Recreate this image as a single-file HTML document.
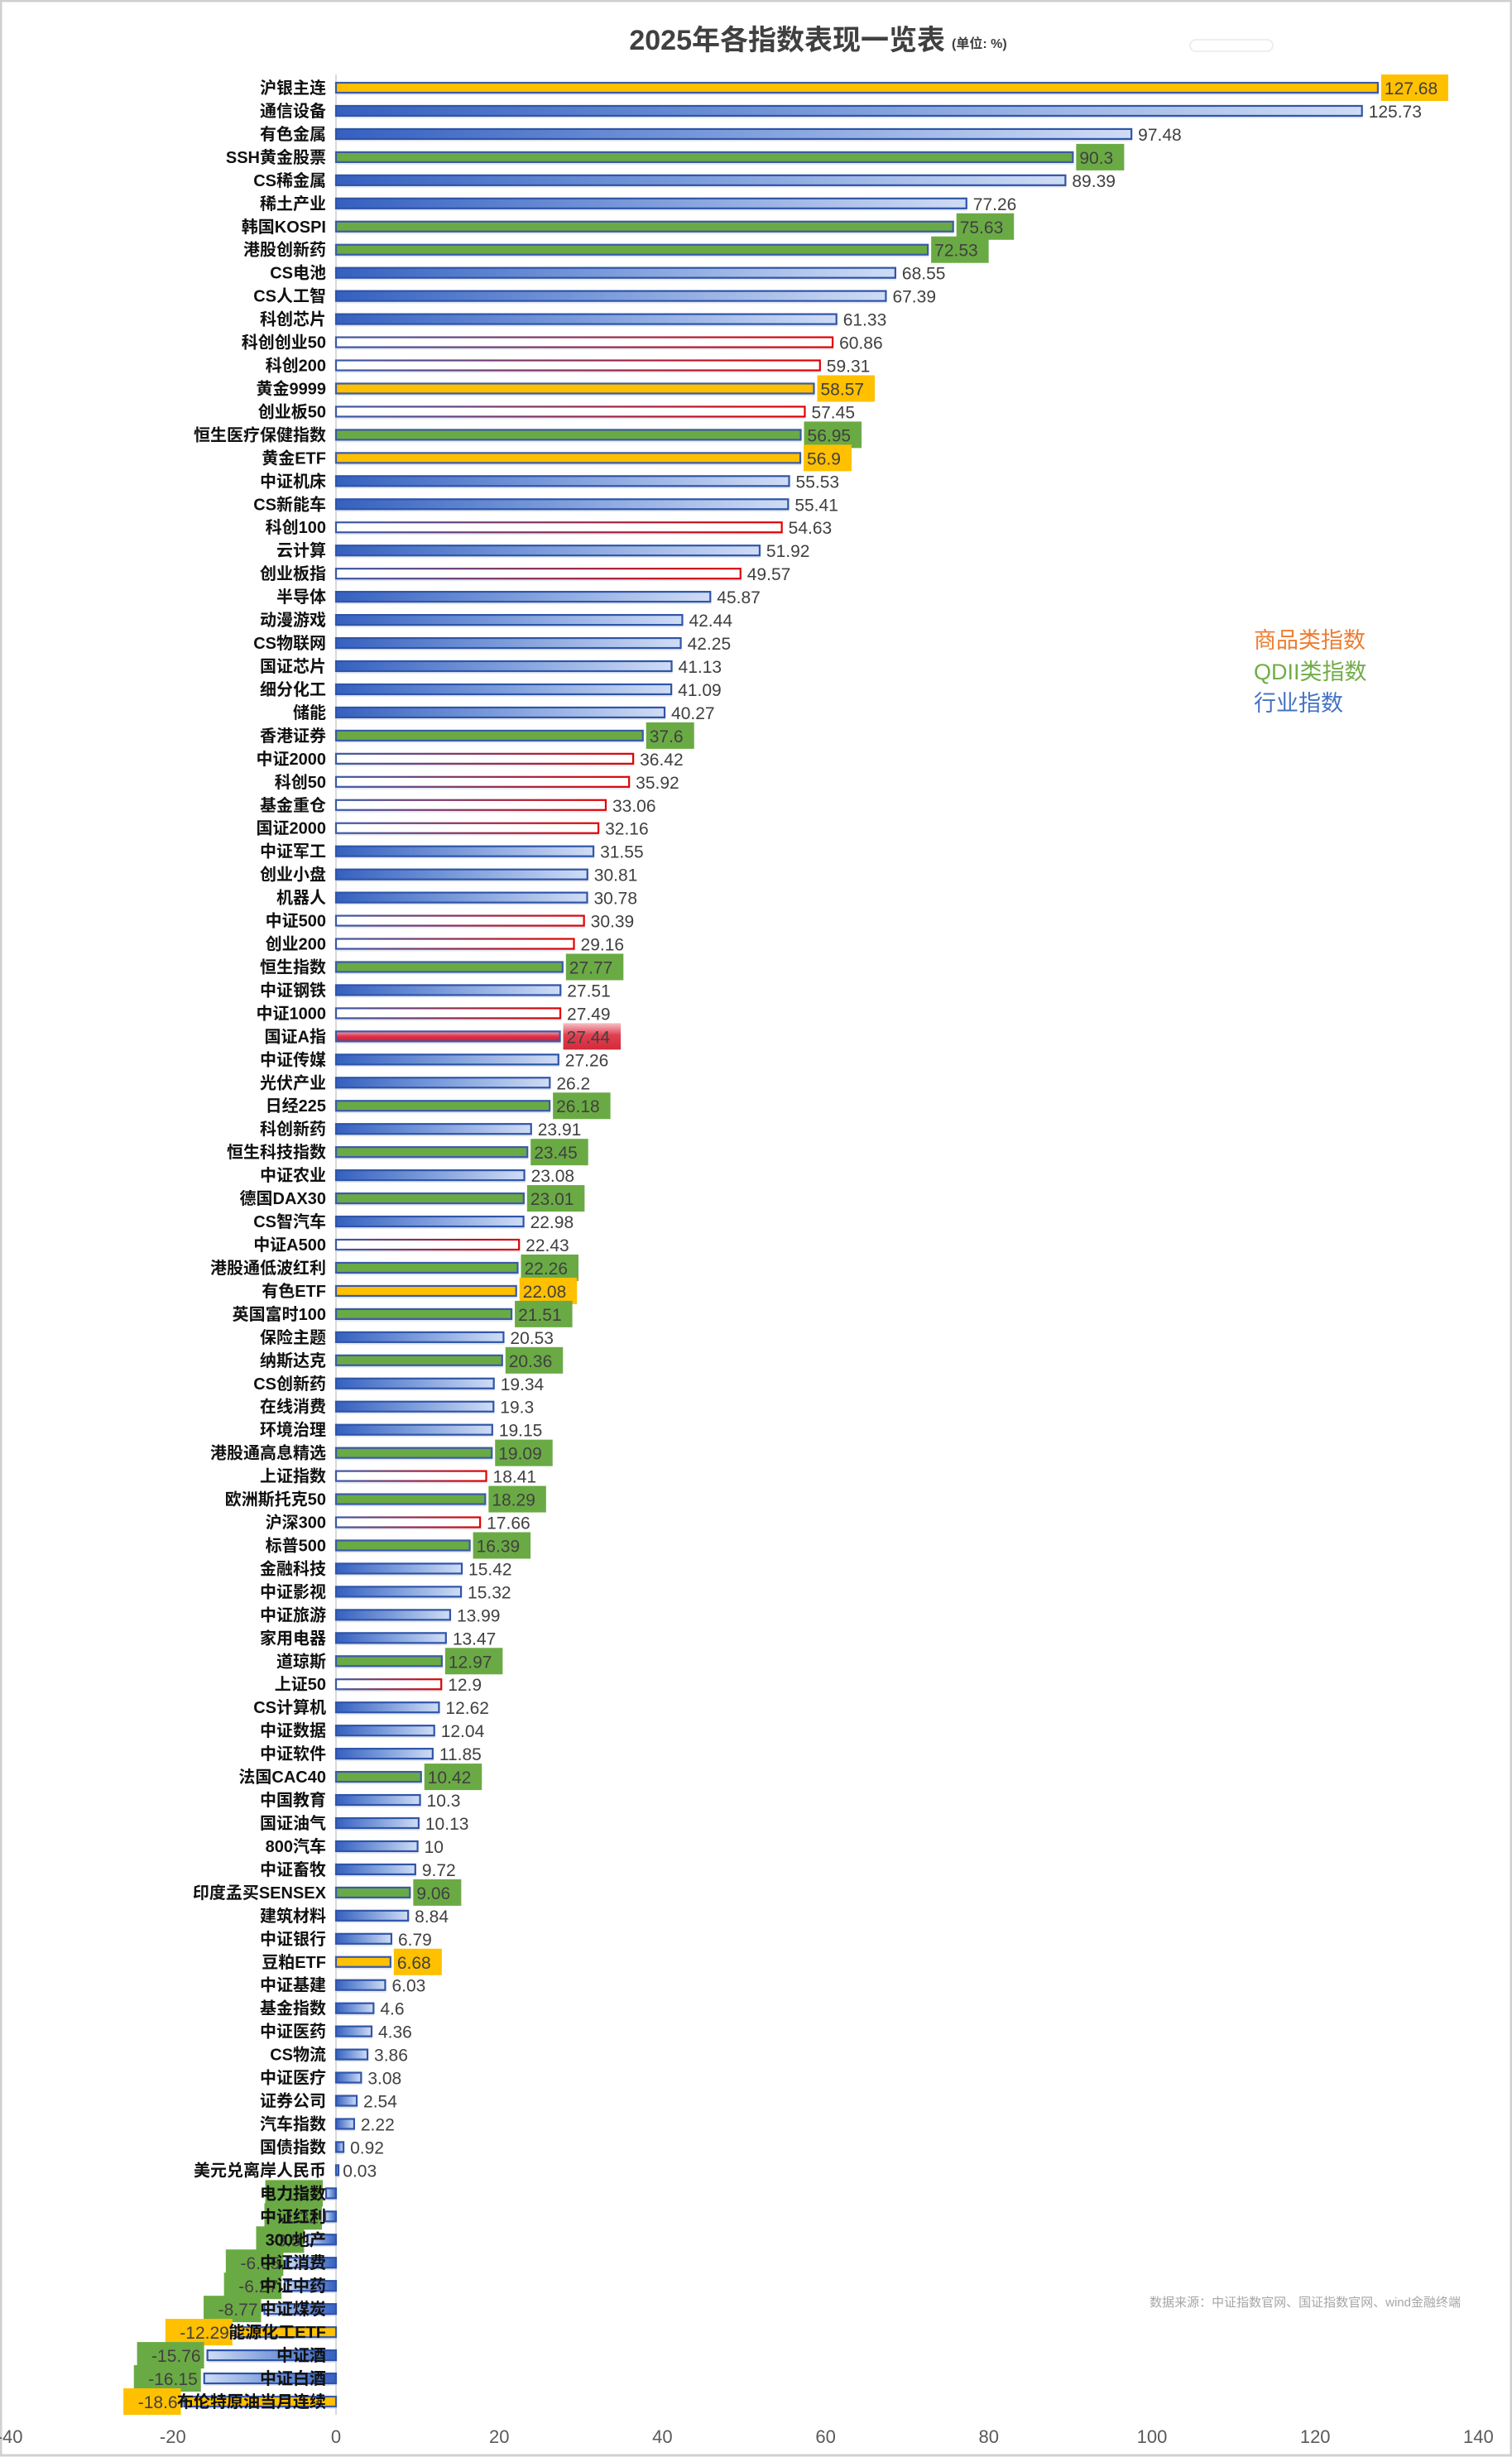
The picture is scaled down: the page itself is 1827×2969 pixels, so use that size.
<!DOCTYPE html>
<html><head><meta charset="utf-8">
<style>
html,body{margin:0;padding:0;background:#fff;}
svg{display:block;font-family:"Liberation Sans","Noto Sans CJK SC",sans-serif;}
</style></head>
<body>
<svg id="chart" width="1827" height="2969" viewBox="0 0 1827 2969" xmlns="http://www.w3.org/2000/svg">
<defs>
<linearGradient id="gBlue" x1="0" x2="1" y1="0" y2="0"><stop offset="0" stop-color="#3560c0"/><stop offset="0.5" stop-color="#7d9ddb"/><stop offset="1" stop-color="#cfdcf5"/></linearGradient>
<linearGradient id="gBlueN" x1="1" x2="0" y1="0" y2="0"><stop offset="0" stop-color="#3560c0"/><stop offset="0.5" stop-color="#7d9ddb"/><stop offset="1" stop-color="#cfdcf5"/></linearGradient>
<linearGradient id="gRedStroke" x1="0" x2="1" y1="0" y2="0"><stop offset="0" stop-color="#3a5aa8"/><stop offset="1" stop-color="#e00000"/></linearGradient>
<linearGradient id="gRedFill" x1="0" x2="0" y1="0" y2="1"><stop offset="0" stop-color="#f4a0aa"/><stop offset="0.5" stop-color="#e0304a"/><stop offset="1" stop-color="#c81e36"/></linearGradient>
<linearGradient id="gRedBox" x1="0" x2="0" y1="0" y2="1"><stop offset="0" stop-color="#f6c0c6"/><stop offset="0.45" stop-color="#e04050"/><stop offset="1" stop-color="#d42a3c"/></linearGradient>
</defs>
<rect x="1" y="1" width="1825" height="2966" fill="#fff" stroke="#d0d0d0" stroke-width="3"/>
<text x="1142" y="60" text-anchor="end" font-size="34" font-weight="bold" fill="#404040">2025年各指数表现一览表</text>
<text x="1150" y="58" font-size="16" font-weight="bold" fill="#404040">(单位: %)</text>
<rect x="1438" y="48" width="100" height="14" rx="7" fill="none" stroke="#eeeeee" stroke-width="2"/>
<g id="plot"></g>
<text x="1515" y="783" font-size="27" fill="#ED7D31">商品类指数</text>
<text x="1515" y="821" font-size="27" fill="#70AD47">QDII类指数</text>
<text x="1515" y="859" font-size="27" fill="#4472C4">行业指数</text>
<text x="1765" y="2787" text-anchor="end" font-size="15" fill="#a6a6a6">数据来源：中证指数官网、国证指数官网、wind金融终端</text>
</svg>
<script>
const categories=["沪银主连","通信设备","有色金属","SSH黄金股票","CS稀金属","稀土产业","韩国KOSPI","港股创新药","CS电池","CS人工智","科创芯片","科创创业50","科创200","黄金9999","创业板50","恒生医疗保健指数","黄金ETF","中证机床","CS新能车","科创100","云计算","创业板指","半导体","动漫游戏","CS物联网","国证芯片","细分化工","储能","香港证券","中证2000","科创50","基金重仓","国证2000","中证军工","创业小盘","机器人","中证500","创业200","恒生指数","中证钢铁","中证1000","国证A指","中证传媒","光伏产业","日经225","科创新药","恒生科技指数","中证农业","德国DAX30","CS智汽车","中证A500","港股通低波红利","有色ETF","英国富时100","保险主题","纳斯达克","CS创新药","在线消费","环境治理","港股通高息精选","上证指数","欧洲斯托克50","沪深300","标普500","金融科技","中证影视","中证旅游","家用电器","道琼斯","上证50","CS计算机","中证数据","中证软件","法国CAC40","中国教育","国证油气","800汽车","中证畜牧","印度孟买SENSEX","建筑材料","中证银行","豆粕ETF","中证基建","基金指数","中证医药","CS物流","中证医疗","证券公司","汽车指数","国债指数","美元兑离岸人民币","电力指数","中证红利","300地产","中证消费","中证中药","中证煤炭","能源化工ETF","中证酒","中证白酒","布伦特原油当月连续"];
const values=[127.68,125.73,97.48,90.3,89.39,77.26,75.63,72.53,68.55,67.39,61.33,60.86,59.31,58.57,57.45,56.95,56.9,55.53,55.41,54.63,51.92,49.57,45.87,42.44,42.25,41.13,41.09,40.27,37.6,36.42,35.92,33.06,32.16,31.55,30.81,30.78,30.39,29.16,27.77,27.51,27.49,27.44,27.26,26.2,26.18,23.91,23.45,23.08,23.01,22.98,22.43,22.26,22.08,21.51,20.53,20.36,19.34,19.3,19.15,19.09,18.41,18.29,17.66,16.39,15.42,15.32,13.99,13.47,12.97,12.9,12.62,12.04,11.85,10.42,10.3,10.13,10,9.72,9.06,8.84,6.79,6.68,6.03,4.6,4.36,3.86,3.08,2.54,2.22,0.92,0.03,-1.21,-1.32,-3.5,-6.05,-6.27,-8.77,-12.29,-15.76,-16.15,-18.6];
const types="YBBGBBGGBBBRRYRGYBBRBRBBBBBBGRRRRBBBRRGBRABBGBGBGBRGYGBGBBBGRGRGBBBBGRBBBGBBBBGBBYBBBBBBBBBBBBBBBYBBY";
const tickValues=[-40,-20,0,20,40,60,80,100,120,140];

const NS="http://www.w3.org/2000/svg";
const plot=document.getElementById('plot');
const X0=406, PX=9.86, Y0=106, STEP=27.96, BH=12;
function xs(v){return X0+v*PX;}
function ys(i){return Y0+i*STEP;}
function mk(tag,attrs,parent){const e=document.createElementNS(NS,tag);for(const k in attrs)e.setAttribute(k,attrs[k]);(parent||plot).appendChild(e);return e;}

const ax=mk('line',{x1:X0,x2:X0,y1:ys(0)-16,y2:ys(values.length-1)+16,stroke:'#d9d9d9','stroke-width':2});



tickValues.forEach(t=>{
  const tx=mk('text',{x:xs(t),y:2952,'text-anchor':'middle','font-size':22,fill:'#595959'});
  tx.textContent=t;
  
  
});

values.forEach((v,i)=>{
  const y=ys(i), t=types[i];
  const x1=Math.min(xs(0),xs(v)), w=Math.max(Math.abs(xs(v)-xs(0)),3);
  let fill='url(#gBlue)', stroke='#2f55a8';
  if(v<0 && t==='B') fill='url(#gBlueN)';
  if(t==='Y'){fill='#ffc000';stroke='#3a5aa8';}
  if(t==='G'){fill='#6aaa44';stroke='#3a5aa8';}
  if(t==='R'){fill='#ffffff';stroke='url(#gRedStroke)';}
  if(t==='A'){fill='url(#gRedFill)';stroke='#3a5aa8';}
  mk('rect',{x:x1+1,y:y-BH/2+3,width:w,height:BH,fill:'#c8d2e6',opacity:0.5});
  const bar=mk('rect',{x:x1,y:y-BH/2,width:w,height:BH,fill:fill,stroke:stroke,'stroke-width':2.2});
  
  

  const txt=String(v);
  const tw=txt.length*11.5+4;
  let lx, anchor;
  if(v>=0){lx=xs(v)+8;anchor='start';}else{lx=xs(v)-8;anchor='end';}
  let bg=null;
  if(t==='Y') bg='#ffc000';
  else if(t==='G') bg='#6aaa44';
  else if(t==='A') bg='url(#gRedBox)';
  else if(v<0) bg='#6aaa44';
  if(bg){
    const bx= anchor==='start'? lx-4 : lx-tw-4;
    mk('rect',{x:bx,y:y-16,width:tw+8,height:32,fill:bg});
  }
  const lt=mk('text',{x:lx,y:y+8,'text-anchor':anchor,'font-size':21,fill:'#404040'});
  lt.textContent=txt;
  
  

  const cl=mk('text',{x:X0-12,y:y+7,'text-anchor':'end','font-size':20,'font-weight':'bold',fill:'#111'});
  cl.textContent=categories[i];
  
  
});
</script>
</body></html>
